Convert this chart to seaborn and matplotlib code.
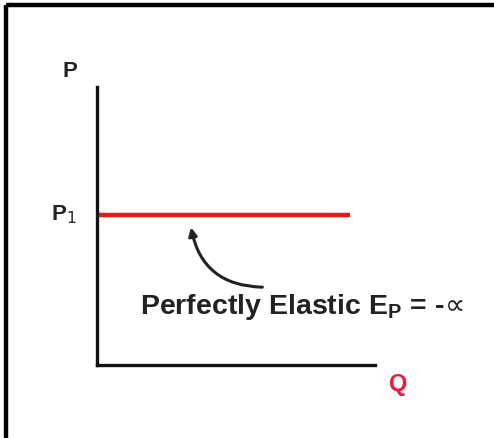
import matplotlib
matplotlib.use("Agg")
import matplotlib.pyplot as plt
from matplotlib.lines import Line2D
import seaborn as sns
import pandas as pd

sns.set_theme(style="white")
plt.rcParams["font.family"] = ["Liberation Sans", "DejaVu Sans"]
plt.rcParams["mathtext.fontset"] = "dejavusans"

# Perfectly elastic demand: price stays at P1 for every quantity
quantity = [0.0, 9.1]
price = [5.4, 5.4]
axis_labels = ["Q", "P"]
price_label = "P$_1$"
curve_label = "Perfectly Elastic E$_\\mathregular{P}$ = -$\\!{\\propto}$"

W, H = 494, 439
fig = plt.figure(figsize=(W / 100, H / 100), dpi=100)
fig.patch.set_facecolor("white")

# frame lines along the top and left edges
fig.add_artist(Line2D([6 / W, 1.0], [1 - 6 / H, 1 - 6 / H], color="black", lw=3.2,
                      solid_capstyle="butt", transform=fig.transFigure))
fig.add_artist(Line2D([6 / W, 6 / W], [0.0, 1 - 6 / H], color="black", lw=3.2,
                      solid_capstyle="butt", transform=fig.transFigure))

ax = fig.add_axes([97 / W, (H - 366) / H, (375 - 97) / W, (366 - 88) / H])
df = pd.DataFrame({"Q": quantity, "P": price})
sns.lineplot(data=df, x="Q", y="P", ax=ax, color="#ee1515", lw=3.2,
             solid_capstyle="butt")

ax.set_xlim(0, 10)
ax.set_ylim(0, 10)
ax.set_xticks([])
ax.set_yticks([])
ax.set_xlabel("")
ax.set_ylabel("")
for side in ("top", "right"):
    ax.spines[side].set_visible(False)
for side in ("left", "bottom"):
    ax.spines[side].set_color("#111111")
    ax.spines[side].set_linewidth(2.4)
ax.patch.set_alpha(0)

ax.text(-0.97, 10.58, axis_labels[1], fontsize=16, fontweight="bold",
        color="#222222", ha="center", va="center", clip_on=False)
ax.text(10.83, -0.68, axis_labels[0], fontsize=17, fontweight="bold",
        color="#e0203c", ha="center", va="center", clip_on=False)
ax.text(-1.2, price[0] + 0.05, price_label, fontsize=16, fontweight="bold",
        color="#222222", ha="center", va="center", clip_on=False)

ax.annotate("", xy=(3.38, 4.95), xytext=(5.95, 2.8),
            arrowprops=dict(arrowstyle="-|>", connectionstyle="arc3,rad=-0.4",
                            color="#222222", lw=2.2, mutation_scale=12,
                            shrinkA=0, shrinkB=0))
ax.text(1.55, 1.87, curve_label, fontsize=20.5, fontweight="bold",
        color="#222222", ha="left", va="baseline", clip_on=False)

fig.savefig("out.png", dpi=100, facecolor="white")
